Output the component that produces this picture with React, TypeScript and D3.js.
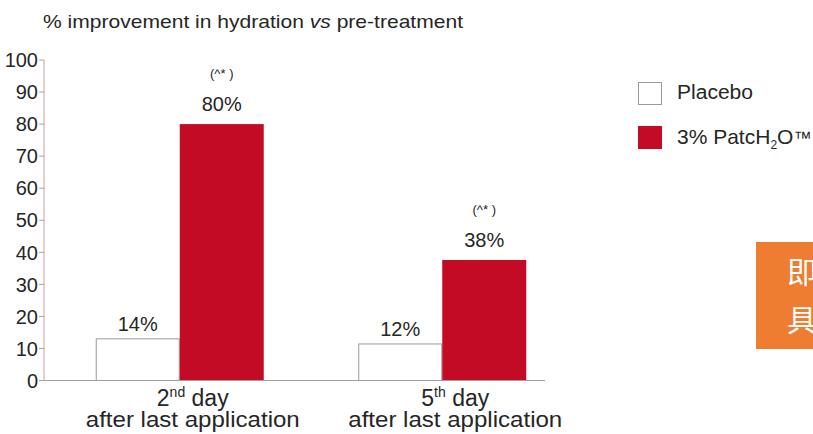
import React from "react";
import * as d3 from "d3";

const categories = ["2nd", "5th"];
const categorySup = ["nd", "th"];
const categoryNum = ["2", "5"];
const seriesNames = ["Placebo", "3% PatcH2O™"];
const placeboValues = [13, 11.4];
const patchValues = [80, 37.6];
const placeboLabels = ["14%", "12%"];
const patchLabels = ["80%", "38%"];
const significance = ["(^* )", "(^* )"];
const yTicks = [0, 10, 20, 30, 40, 50, 60, 70, 80, 90, 100];

const W = 813;
const H = 434;
const RED = "#C30B25";
const TEXT = "#262626";
const FONT = "'Liberation Sans', Arial, Helvetica, sans-serif";

export default function App() {
  const y = d3.scaleLinear().domain([0, 100]).range([380.5, 60]);
  const x0 = d3
    .scaleBand<string>()
    .domain(categories)
    .range([17, 605])
    .paddingInner(0.36)
    .paddingOuter(0.3);
  const x1 = d3
    .scaleBand<string>()
    .domain(["placebo", "patch"])
    .range([0, x0.bandwidth()])
    .padding(0);

  const axisX = 44;

  return (
    <svg
      width={W}
      height={H}
      style={{ position: "absolute", left: 0, top: 0, background: "#fff" }}
      fontFamily={FONT}
    >
      <rect x={0} y={0} width={W} height={H} fill="#fff" />
      {/* title */}
      <text x={43} y={28} fontSize={19} fill={TEXT} textLength={420} lengthAdjust="spacingAndGlyphs">
        % improvement in hydration <tspan fontStyle="italic">vs</tspan> pre-treatment
      </text>

      {/* y axis */}
      <line x1={axisX} x2={axisX} y1={y(100)} y2={y(0)} stroke="#c9a3ad" strokeWidth={1} />
      {yTicks.map((t) => (
        <g key={t}>
          <line x1={axisX - 5} x2={axisX} y1={y(t)} y2={y(t)} stroke="#b89aa2" strokeWidth={1} />
          <text
            x={axisX - 6}
            y={y(t)}
            dy="0.36em"
            textAnchor="end"
            fontSize={20}
            fill={TEXT}
          >
            {t}
          </text>
        </g>
      ))}

      {/* bars */}
      {categories.map((c, i) => {
        const gx = x0(c)!;
        const px = gx + x1("placebo")!;
        const rx = gx + x1("patch")!;
        const bw = x1.bandwidth();
        return (
          <g key={c}>
            <rect
              x={px + 0.5}
              y={y(placeboValues[i])}
              width={bw - 1}
              height={y(0) - y(placeboValues[i])}
              fill="#fff"
              stroke="#9a9a9a"
              strokeWidth={1}
            />
            <rect
              x={rx}
              y={y(patchValues[i])}
              width={bw}
              height={y(0) - y(patchValues[i])}
              fill={RED}
            />
            <text
              x={px + bw / 2}
              y={y(placeboValues[i]) - 8}
              textAnchor="middle"
              fontSize={20}
              fill={TEXT}
            >
              {placeboLabels[i]}
            </text>
            <text
              x={rx + bw / 2}
              y={y(patchValues[i]) - 13}
              textAnchor="middle"
              fontSize={20}
              fill={TEXT}
            >
              {patchLabels[i]}
            </text>
            <text
              x={rx + bw / 2}
              y={y(patchValues[i]) - 13 - 33}
              textAnchor="middle"
              fontSize={13}
              fill={TEXT}
            >
              {significance[i]}
            </text>
            <text
              x={gx + x0.bandwidth() / 2 + 13}
              y={406}
              textAnchor="middle"
              fontSize={23}
              fill={TEXT}
            >
              {categoryNum[i]}
              <tspan fontSize={14} dy={-9}>
                {categorySup[i]}
              </tspan>
              <tspan dy={9}> day</tspan>
            </text>
            <text
              x={gx + x0.bandwidth() / 2 + 13}
              y={427}
              textAnchor="middle"
              fontSize={22}
              fill={TEXT}
              textLength={214}
              lengthAdjust="spacingAndGlyphs"
            >
              after last application
            </text>
          </g>
        );
      })}

      {/* x axis */}
      <line x1={axisX} x2={545} y1={y(0)} y2={y(0)} stroke="#a89a9e" strokeWidth={1} />

      {/* legend */}
      <rect x={638.5} y={82.5} width={23} height={22} fill="#fff" stroke="#9a9a9a" />
      <text x={677} y={99} fontSize={20} fill={TEXT} textLength={76} lengthAdjust="spacingAndGlyphs">
        {seriesNames[0]}
      </text>
      <rect x={638} y={126} width={24} height={23} fill={RED} />
      <text x={677} y={144} fontSize={21} fill={TEXT}>
        3% PatcH
        <tspan fontSize={12} dy={5}>
          2
        </tspan>
        <tspan dy={-5}>O</tspan>
        <tspan fontSize={18}>™</tspan>
      </text>

      {/* orange badge */}
      <rect x={756} y={242} width={60} height={107} fill="#EE7D31" />
      <text x={787} y={283} fontSize={30} fill="#fff" fontFamily="'Noto Sans CJK SC', sans-serif">
        即
      </text>
      <text x={787} y={331} fontSize={30} fill="#fff" fontFamily="'Noto Sans CJK SC', sans-serif">
        具
      </text>
    </svg>
  );
}
